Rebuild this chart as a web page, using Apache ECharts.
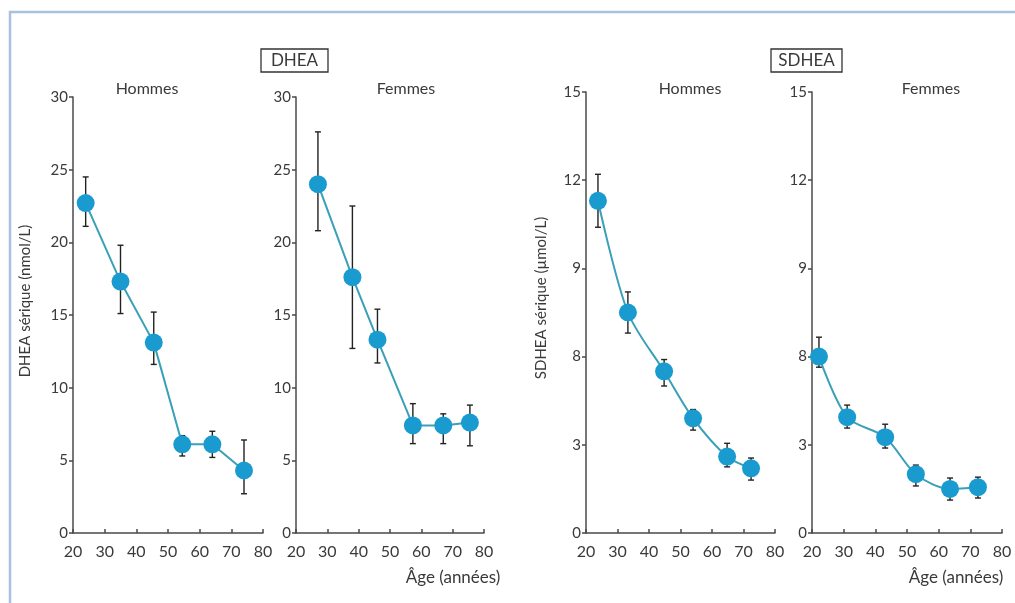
<!DOCTYPE html>
<html>
<head>
<meta charset="utf-8">
<script src="https://cdn.jsdelivr.net/npm/echarts@6/dist/echarts.min.js"></script>
<style>
html,body{margin:0;padding:0;background:#fff;}
#chart{width:1015px;height:603px;}
</style>
</head>
<body>
<div id="chart"></div>
<script>
// ---- data ----
const xTicks = ['20','30','40','50','60','70','80'];
const dheaTicks = ['0','5','10','15','20','25','30'];
const sdheaTicks = ['0','3','8','9','12','15'];

const dheaMenAge  = [24, 35, 45.5, 54.5, 64, 74];
const dheaMenVal  = [22.7, 17.3, 13.1, 6.1, 6.1, 4.3];
const dheaMenLow  = [21.1, 15.1, 11.6, 5.3, 5.2, 2.7];
const dheaMenHigh = [24.5, 19.8, 15.2, 6.7, 7.0, 6.4];

const dheaWomAge  = [27, 38, 46, 57.3, 67, 75.5];
const dheaWomVal  = [24.0, 17.6, 13.3, 7.4, 7.4, 7.6];
const dheaWomLow  = [20.8, 12.7, 11.7, 6.15, 6.15, 6.0];
const dheaWomHigh = [27.6, 22.5, 15.4, 8.9, 8.2, 8.8];

const sdheaMenAge  = [23.8, 33.3, 44.8, 54, 64.8, 72.4];
const sdheaMenVal  = [11.3, 7.5, 5.5, 3.9, 2.6, 2.2];
const sdheaMenLow  = [10.4, 6.8, 5.0, 3.5, 2.25, 1.8];
const sdheaMenHigh = [12.2, 8.2, 5.9, 4.2, 3.05, 2.55];

const sdheaWomAge  = [22.2, 31.1, 43.1, 52.8, 63.6, 72.4];
const sdheaWomVal  = [6.0, 3.94, 3.26, 2.0, 1.5, 1.56];
const sdheaWomLow  = [5.64, 3.57, 2.89, 1.6, 1.12, 1.19];
const sdheaWomHigh = [6.66, 4.35, 3.7, 2.31, 1.87, 1.9];

// ---- styling ----
const FONT = 'Lato, "Open Sans", sans-serif';
const TXT = '#3a3a3a';
const AXC = '#4a4a4a';
const MARK = '#1a9bd0';
const LINE = '#3aa0b8';

const panels = [
  {left:73,  width:190, top:97,  max:30, interval:5, ticks:dheaTicks,  age:dheaMenAge, val:dheaMenVal, lo:dheaMenLow, hi:dheaMenHigh, smooth:false},
  {left:296, width:188, top:97,  max:30, interval:5, ticks:dheaTicks,  age:dheaWomAge, val:dheaWomVal, lo:dheaWomLow, hi:dheaWomHigh, smooth:false},
  {left:586, width:189, top:92,  max:15, interval:3, ticks:sdheaTicks, age:sdheaMenAge, val:sdheaMenVal, lo:sdheaMenLow, hi:sdheaMenHigh, smooth:0.3},
  {left:812, width:190, top:92,  max:15, interval:3, ticks:sdheaTicks, age:sdheaWomAge, val:sdheaWomVal, lo:sdheaWomLow, hi:sdheaWomHigh, smooth:0.3}
];

const grid = [], xAxis = [], yAxis = [], series = [];
panels.forEach((p, i) => {
  grid.push({left:p.left, top:p.top, width:p.width, height:533 - p.top});
  xAxis.push({
    type:'value', gridIndex:i, min:20, max:80, interval:10,
    axisLine:{onZero:false, lineStyle:{color:AXC, width:1.5}},
    axisTick:{show:true, inside:true, length:4, lineStyle:{color:AXC, width:1.5}},
    axisLabel:{color:TXT, fontFamily:FONT, fontSize:16, margin:11,
      formatter:v => xTicks[Math.round((v - 20) / 10)]},
    splitLine:{show:false}
  });
  yAxis.push({
    type:'value', gridIndex:i, min:0, max:p.max, interval:p.interval,
    axisLine:{show:true, lineStyle:{color:AXC, width:1.5}},
    axisTick:{show:true, length:4, lineStyle:{color:AXC, width:1.5}},
    axisLabel:{color:TXT, fontFamily:FONT, fontSize:15, margin:5,
      formatter:v => p.ticks[Math.round(v / p.interval)]},
    splitLine:{show:false}
  });
  series.push({
    type:'custom', xAxisIndex:i, yAxisIndex:i, z:1,
    data:p.age.map((a, k) => [a, p.lo[k], p.hi[k]]),
    renderItem:(params, api) => {
      const lo = api.coord([api.value(0), api.value(1)]);
      const hi = api.coord([api.value(0), api.value(2)]);
      const c = 3;
      const st = {stroke:'#222', lineWidth:1.4};
      return {type:'group', children:[
        {type:'line', shape:{x1:lo[0], y1:lo[1], x2:hi[0], y2:hi[1]}, style:st},
        {type:'line', shape:{x1:hi[0]-c, y1:hi[1], x2:hi[0]+c, y2:hi[1]}, style:st},
        {type:'line', shape:{x1:lo[0]-c, y1:lo[1], x2:lo[0]+c, y2:lo[1]}, style:st}
      ]};
    },
    silent:true
  });
  series.push({
    type:'line', xAxisIndex:i, yAxisIndex:i, z:3,
    data:p.age.map((a, k) => [a, p.val[k]]),
    smooth:p.smooth,
    symbol:'circle', symbolSize:18,
    lineStyle:{color:LINE, width:2},
    itemStyle:{color:MARK, opacity:1},
    silent:true, animation:false
  });
});

const tStyle = {fill:TXT, font:'16px ' + FONT};
const graphic = [
  // outer frame
  {type:'polyline', shape:{points:[[10,610],[10,12],[1025,12]]}, style:{stroke:'#a9c0df', lineWidth:2.5, fill:null}, silent:true},
  // DHEA / SDHEA boxes
  {type:'rect', shape:{x:261, y:49, width:67, height:23}, style:{stroke:'#333', lineWidth:1.3, fill:'#fff'}},
  {type:'text', x:294.5, y:61, style:{text:'DHEA', fill:TXT, font:'17px ' + FONT, align:'center', verticalAlign:'middle'}},
  {type:'rect', shape:{x:771, y:49, width:71, height:23}, style:{stroke:'#333', lineWidth:1.3, fill:'#fff'}},
  {type:'text', x:806.5, y:61, style:{text:'SDHEA', fill:TXT, font:'17px ' + FONT, align:'center', verticalAlign:'middle'}},
  // panel titles
  {type:'text', x:147, y:89, style:Object.assign({text:'Hommes', align:'center', verticalAlign:'middle'}, tStyle)},
  {type:'text', x:406, y:89, style:Object.assign({text:'Femmes', align:'center', verticalAlign:'middle'}, tStyle)},
  {type:'text', x:690, y:89, style:Object.assign({text:'Hommes', align:'center', verticalAlign:'middle'}, tStyle)},
  {type:'text', x:931, y:89, style:Object.assign({text:'Femmes', align:'center', verticalAlign:'middle'}, tStyle)},
  // y axis titles
  {type:'text', x:25, y:301, rotation:Math.PI/2, style:{text:'DHEA sérique (nmol/L)', fill:TXT, font:'15px ' + FONT, align:'center', verticalAlign:'middle'}},
  {type:'text', x:541, y:298, rotation:Math.PI/2, style:{text:'SDHEA sérique (µmol/L)', fill:TXT, font:'15px ' + FONT, align:'center', verticalAlign:'middle'}},
  // x axis titles
  {type:'text', x:453, y:578, style:{text:'Âge (années)', fill:TXT, font:'17px ' + FONT, align:'center', verticalAlign:'middle'}},
  {type:'text', x:956, y:578, style:{text:'Âge (années)', fill:TXT, font:'17px ' + FONT, align:'center', verticalAlign:'middle'}}
];

const chart = echarts.init(document.getElementById('chart'), null, {renderer:'canvas'});
chart.setOption({
  backgroundColor:'#fff',
  animation:false,
  grid, xAxis, yAxis, series, graphic
});
</script>
</body>
</html>
